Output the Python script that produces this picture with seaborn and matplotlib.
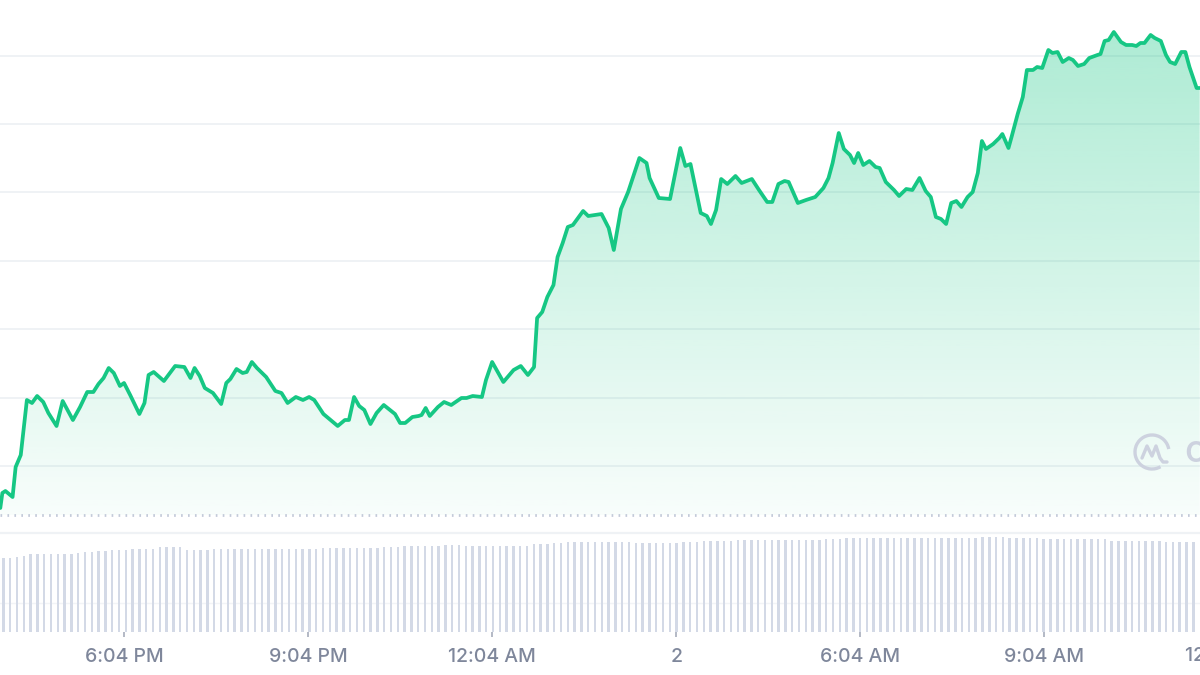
import matplotlib
matplotlib.use("Agg")
import matplotlib.pyplot as plt
from matplotlib.patches import Arc
import seaborn as sns
import numpy as np

# price trace: minutes since 4:04 PM (day 1) and price level (chart units)
price_minutes = [
    -1, 1, 4, 11, 14, 19, 25, 30, 35, 41, 46, 54, 60, 70, 77, 84, 90, 95, 100, 105,
    110, 116, 120, 126, 135, 140, 144, 149, 159, 170, 179, 185, 189, 194, 199, 207, 215, 220, 224, 230,
    236, 240, 245, 250, 259, 268, 274, 280, 288, 295, 301, 306, 315, 329, 336, 340, 345, 350, 355, 361,
    367, 374, 385, 390, 395, 402, 408, 411, 415, 419, 427, 433, 440, 450, 455, 461, 470, 474, 480, 491,
    501, 508, 515, 521,
    524, 529, 534, 540, 544, 549, 554, 559, 569, 574, 587, 594, 599, 606, 613, 624, 631, 634, 643, 654,
    664, 669, 674, 684, 690, 694, 699, 704, 710, 718, 724, 734, 741, 749, 754, 760, 766, 770, 779, 787,
    796, 804, 809, 813, 819, 824, 830, 834, 838, 843, 849, 855, 859, 865, 873, 878, 885, 891, 898, 904,
    909, 914, 919, 924, 929, 934, 939, 945, 950, 955, 959, 963, 970, 976, 979, 985, 988, 994, 999, 1003,
    1009, 1013, 1018, 1024, 1028, 1033, 1038, 1044, 1048, 1053, 1059, 1064, 1072, 1075, 1079, 1083, 1088, 1095, 1100, 1106,
    1110, 1114, 1118, 1124, 1128, 1134, 1139, 1143, 1148, 1154, 1158, 1162, 1169, 1172,
]
price = [
    92, 107, 109, 103, 133, 145, 200, 197, 204, 198, 187, 174, 199, 180, 193, 208, 208, 216, 222, 232,
    227, 214, 217, 205, 186, 197, 225, 228, 219, 234, 233, 222, 232, 224, 212, 207, 196, 217, 221, 231,
    227, 228, 238, 232, 223, 209, 207, 197, 203, 200, 203, 200, 186, 174, 180, 180, 203, 194, 190, 176,
    187, 195, 186, 177, 177, 183, 184, 185, 192, 184, 193, 198, 195, 202, 202, 204, 203, 220, 238, 218,
    230, 234, 225, 233,
    282, 288, 303, 315, 343, 357, 373, 375, 389, 384, 386, 372, 350, 391, 408, 442, 437, 422, 402, 401,
    452, 434, 436, 387, 384, 376, 390, 421, 416, 424, 417, 421, 410, 398, 398, 416, 419, 418, 397, 400,
    403, 412, 422, 437, 467, 451, 445, 437, 447, 435, 439, 433, 432, 418, 410, 404, 411, 410, 422, 409,
    403, 383, 381, 376, 397, 399, 393, 403, 408, 427, 459, 451, 456, 462, 466, 452, 463, 486, 503, 530,
    530, 533, 532, 550, 547, 548, 538, 542, 540, 534, 536, 542, 545, 546, 559, 560, 568, 558, 555, 555,
    554, 557, 557, 565, 562, 559, 545, 538, 536, 548, 548, 533, 512, 512,
]
open_price = 85
grid_levels = [134, 202, 271, 339, 408, 476, 544]

# volume bars (one every ~6.65 minutes), relative heights
volume = [
    74, 74, 75, 76, 78, 78, 78, 78, 78, 78, 78, 79, 80, 80, 81, 81, 82, 82, 82, 83,
    83, 83, 83, 85, 85, 85, 85, 82, 82, 82, 82, 83, 83, 83, 83, 83, 83, 83, 83, 83,
    83, 83, 83, 83, 83, 83, 83, 84, 84, 84, 84, 84, 84, 84, 84, 84, 85, 85, 85, 86,
    86, 86, 86, 86, 86, 87, 87, 87, 86, 86, 86, 86, 86, 86, 86, 86, 86, 86, 88, 88,
    88, 89, 89, 90, 90, 90, 90, 90, 90, 90, 90, 90, 90, 89, 89, 89, 89, 89, 89, 89,
    90, 90, 90, 91, 91, 91, 91, 91, 92, 92, 92, 92, 92, 92, 92, 92, 92, 92, 92, 92,
    92, 93, 93, 93, 94, 94, 94, 94, 94, 94, 94, 94, 94, 94, 94, 94, 94, 94, 94, 94,
    94, 94, 94, 94, 95, 95, 95, 95, 94, 94, 94, 94, 94, 93, 93, 93, 93, 93, 93, 93,
    93, 93, 93, 91, 91, 91, 91, 91, 91, 91, 91, 90, 90, 90, 90, 90,
]
volume_minutes = 2 + 6.65 * np.arange(len(volume))

tick_minutes = [120, 300, 480, 660, 840, 1020, 1200]
tick_labels = ["6:04 PM", "9:04 PM", "12:04 AM", "2", "6:04 AM", "9:04 AM", "12:04 PM"]
x_range = (-1.3, 1172.3)

GREEN = "#16c784"
GRID = "#eff2f5"
TEXT = "#7f879b"
VOL = "#d3d9e6"

sns.set_theme(style="white")
plt.rcParams["font.family"] = ["Inter", "DejaVu Sans"]

fig = plt.figure(figsize=(12, 6.75), dpi=100)
ax = fig.add_axes([0, 142 / 675, 1, 533 / 675])
vax = fig.add_axes([0, 43 / 675, 1, 99 / 675])

# price line with gradient area
sns.lineplot(x=price_minutes, y=price, ax=ax, color=GREEN, linewidth=2.7,
             estimator=None, zorder=4)
poly = ax.fill_between(price_minutes, price, open_price, facecolor="none", edgecolor="none")
grad = np.linspace(1, 0, 256).reshape(-1, 1)
rgba = np.zeros((256, 1, 4))
rgba[..., 0], rgba[..., 1], rgba[..., 2] = 22 / 255, 199 / 255, 132 / 255
rgba[..., 3] = 0.03 + 0.34 * grad
im = ax.imshow(rgba, extent=[x_range[0], x_range[1], open_price, 600], aspect="auto",
               origin="upper", zorder=2)
im.set_clip_path(poly.get_paths()[0], ax.transData)

ax.axhline(open_price, color="#c3cad9", lw=2.0, ls=(0, (0.6, 1.9)), zorder=3)
ax.set_xlim(*x_range)
ax.set_ylim(67, 600)
ax.set_yticks(grid_levels)
ax.yaxis.grid(True, color=GRID, lw=1.4)
ax.xaxis.grid(False)
ax.set_axisbelow(True)
ax.tick_params(left=False, labelleft=False, bottom=False, labelbottom=False)
ax.set_xlabel("")
ax.set_ylabel("")
for s in ax.spines.values():
    s.set_visible(False)

# volume bars
sns.barplot(x=volume_minutes, y=volume, ax=vax, native_scale=True, width=0.36,
            color=VOL, saturation=1, linewidth=0)
vax.set_xlim(*x_range)
vax.set_ylim(0, 99)
vax.set_yticks([29])
vax.yaxis.grid(True, color="#f2f4f7", lw=1.0)
vax.set_axisbelow(True)
vax.tick_params(left=False, labelleft=False)
vax.set_xticks(tick_minutes[:-1])
vax.set_xticklabels(tick_labels[:-1], fontsize=14, color=TEXT, fontweight="medium")
vax.tick_params(axis="x", bottom=True, length=3.5, width=1.2, color="#a7adbb", pad=8)
vax.set_xlabel("")
vax.set_ylabel("")
for name, s in vax.spines.items():
    s.set_visible(name == "top")
vax.spines["top"].set_color(GRID)
vax.spines["top"].set_linewidth(1.6)

# last label runs off the right edge
vax.text(tick_minutes[-1], -0.245, tick_labels[-1], transform=vax.get_xaxis_transform(),
         ha="center", va="center", fontsize=14, color=TEXT, fontweight="medium", clip_on=False)

# watermark
lax = fig.add_axes([1133 / 1200, 204 / 675, 39 / 1200, 38 / 675])
lax.set_xlim(0, 39)
lax.set_ylim(0, 38)
lax.axis("off")
wm = "#cdd2df"
lax.add_patch(Arc((19, 19), 34, 34, theta1=10, theta2=300, color=wm, lw=2.4))
lax.plot([9, 14, 19, 23, 27, 30, 34], [13, 25, 15, 25, 13, 9, 9], color=wm, lw=2.4,
         solid_joinstyle="round", solid_capstyle="round")
fig.text(1184 / 1200, 1 - 452 / 675, "coinmarketcap", fontsize=27, color=wm,
         ha="left", va="center", fontweight="medium")

fig.savefig("out.png", dpi=100)
plt.close(fig)
